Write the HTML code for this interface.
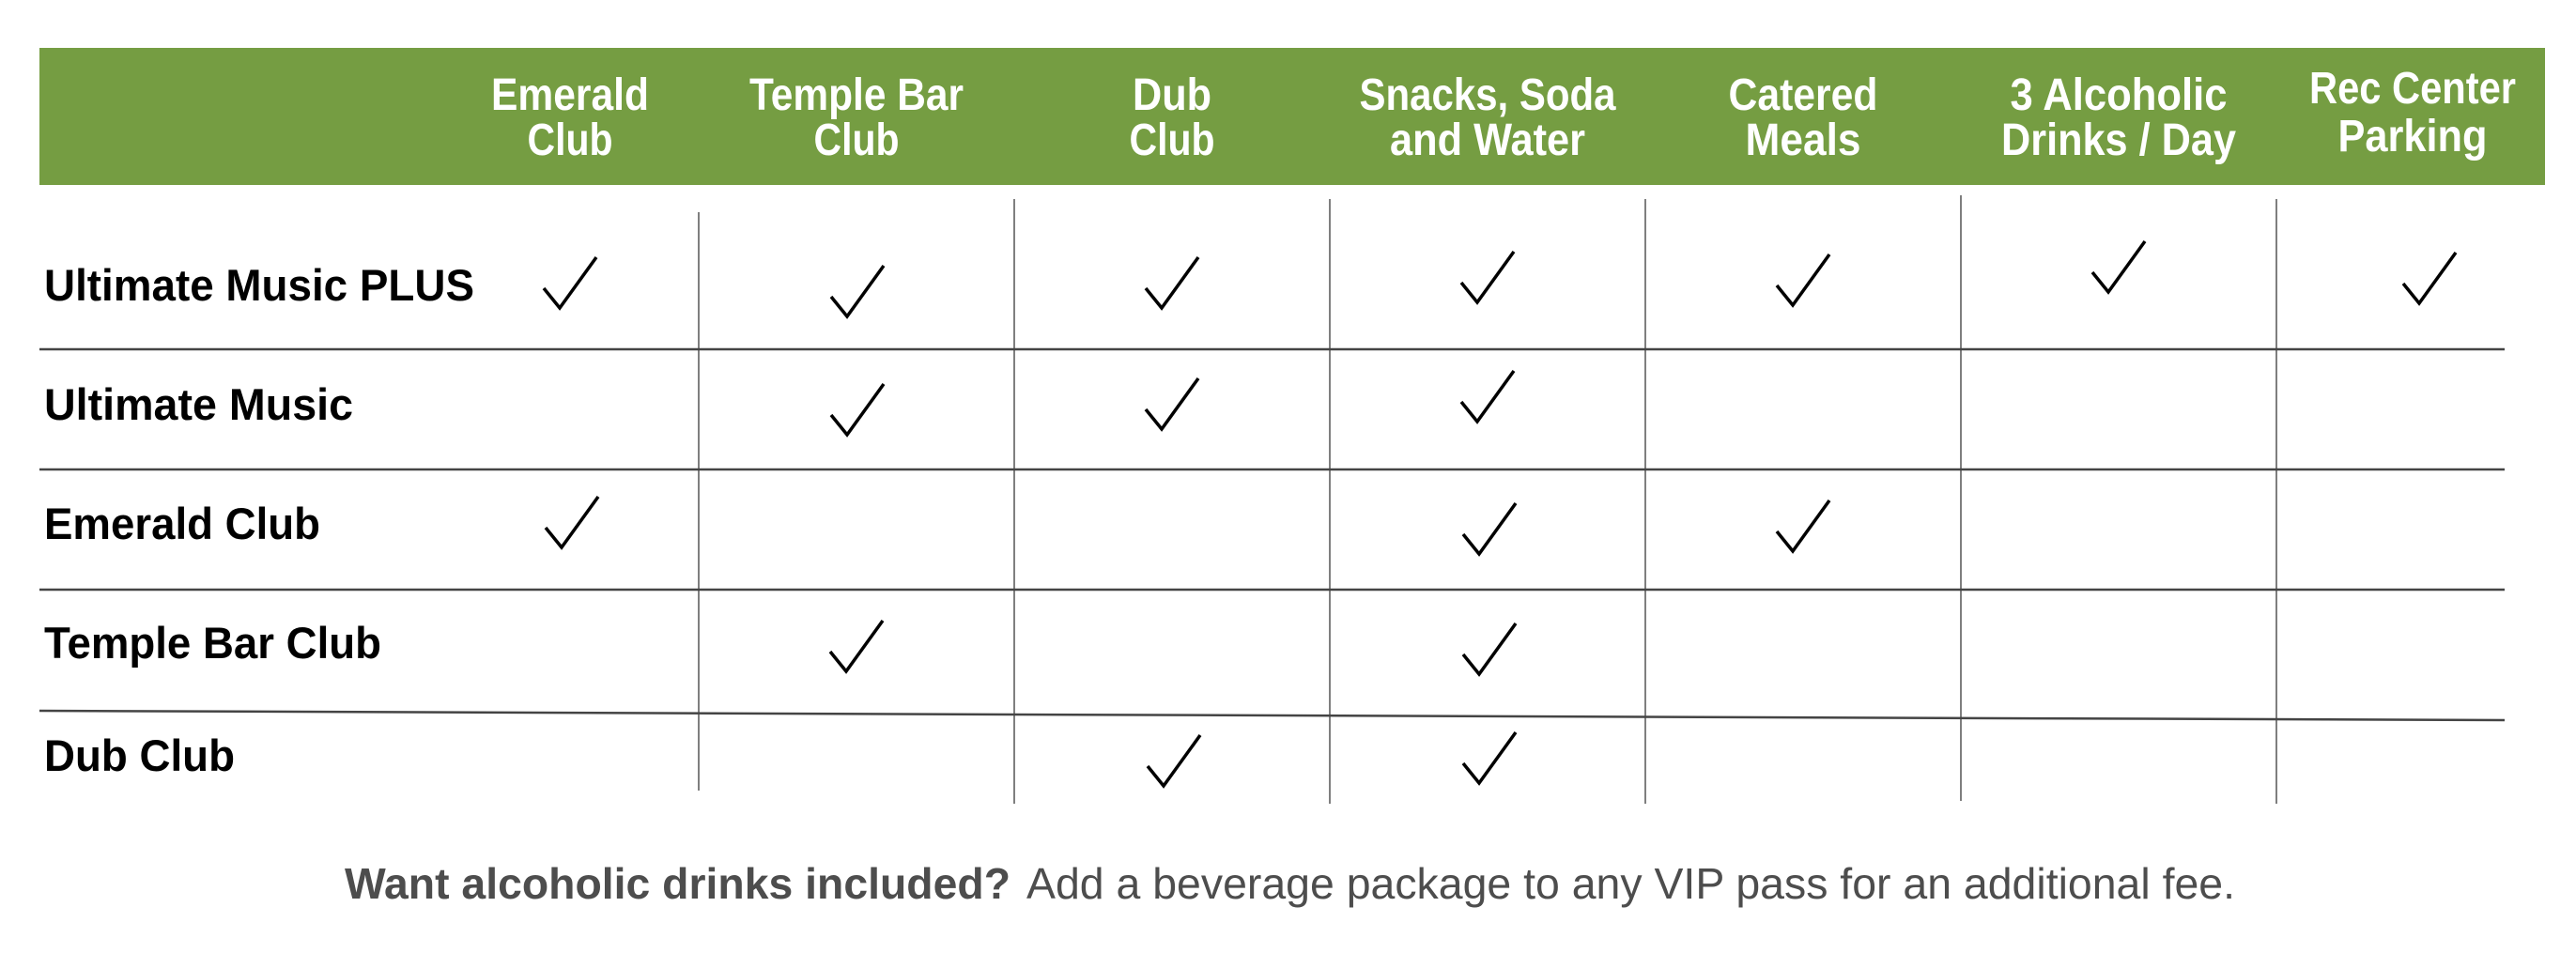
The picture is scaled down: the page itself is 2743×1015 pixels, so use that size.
<!DOCTYPE html>
<html><head><meta charset="utf-8"><style>
html,body{margin:0;padding:0;background:#fff;}
svg{display:block;}
</style></head><body>
<svg width="2743" height="1015" viewBox="0 0 2743 1015" xmlns="http://www.w3.org/2000/svg" font-family="'Liberation Sans', sans-serif">
<rect x="0" y="0" width="2743" height="1015" fill="#fff"/>
<rect x="42" y="51" width="2668" height="146" fill="#759d42"/>
<g fill="#fff" font-weight="bold" font-size="48" text-anchor="middle">
<text x="607" y="117" textLength="168" lengthAdjust="spacingAndGlyphs">Emerald</text>
<text x="607" y="165" textLength="91" lengthAdjust="spacingAndGlyphs">Club</text>
<text x="912" y="117" textLength="228" lengthAdjust="spacingAndGlyphs">Temple Bar</text>
<text x="912" y="165" textLength="91" lengthAdjust="spacingAndGlyphs">Club</text>
<text x="1248" y="117" textLength="84" lengthAdjust="spacingAndGlyphs">Dub</text>
<text x="1248" y="165" textLength="91" lengthAdjust="spacingAndGlyphs">Club</text>
<text x="1584" y="117" textLength="273" lengthAdjust="spacingAndGlyphs">Snacks, Soda</text>
<text x="1584" y="165" textLength="208" lengthAdjust="spacingAndGlyphs">and Water</text>
<text x="1920" y="117" textLength="159" lengthAdjust="spacingAndGlyphs">Catered</text>
<text x="1920" y="165" textLength="123" lengthAdjust="spacingAndGlyphs">Meals</text>
<text x="2256" y="117" textLength="231" lengthAdjust="spacingAndGlyphs">3 Alcoholic</text>
<text x="2256" y="165" textLength="250" lengthAdjust="spacingAndGlyphs">Drinks / Day</text>
<text x="2569" y="110" textLength="220" lengthAdjust="spacingAndGlyphs">Rec Center</text>
<text x="2569" y="161" textLength="159" lengthAdjust="spacingAndGlyphs">Parking</text>
</g>
<g stroke="#555" stroke-width="1.5">
<line x1="744" y1="226" x2="744" y2="842"/>
<line x1="1080" y1="212" x2="1080" y2="856"/>
<line x1="1416" y1="212" x2="1416" y2="856"/>
<line x1="1752" y1="212" x2="1752" y2="856"/>
<line x1="2088" y1="208" x2="2088" y2="853"/>
<line x1="2424" y1="212" x2="2424" y2="856"/>
</g>
<g stroke="#444" stroke-width="2.5">
<line x1="42" y1="372" x2="2667" y2="372"/>
<line x1="42" y1="500" x2="2667" y2="500"/>
<line x1="42" y1="628" x2="2667" y2="628"/>
<line x1="42" y1="757" x2="2667" y2="767"/>
</g>
<g fill="#000" font-weight="bold" font-size="47">
<text x="47" y="320" textLength="458" lengthAdjust="spacingAndGlyphs">Ultimate Music PLUS</text>
<text x="47" y="447" textLength="329" lengthAdjust="spacingAndGlyphs">Ultimate Music</text>
<text x="47" y="574" textLength="294" lengthAdjust="spacingAndGlyphs">Emerald Club</text>
<text x="47" y="701" textLength="359" lengthAdjust="spacingAndGlyphs">Temple Bar Club</text>
<text x="47" y="821" textLength="203" lengthAdjust="spacingAndGlyphs">Dub Club</text>
</g>
<defs>
<polyline id="ck" points="-17,-21 0,0 39,-54" fill="none" stroke="#000" stroke-width="3.5" stroke-linejoin="miter"/>
</defs>
<use href="#ck" x="596" y="328"/>
<use href="#ck" x="902" y="337"/>
<use href="#ck" x="1237" y="328"/>
<use href="#ck" x="1573" y="322"/>
<use href="#ck" x="1909" y="325"/>
<use href="#ck" x="2245" y="311"/>
<use href="#ck" x="2576" y="323"/>
<use href="#ck" x="902" y="463"/>
<use href="#ck" x="1237" y="457"/>
<use href="#ck" x="1573" y="449"/>
<use href="#ck" x="598" y="583"/>
<use href="#ck" x="1575" y="590"/>
<use href="#ck" x="1909" y="587"/>
<use href="#ck" x="901" y="715"/>
<use href="#ck" x="1575" y="718"/>
<use href="#ck" x="1239" y="837"/>
<use href="#ck" x="1575" y="834"/>
<g fill="#4d4d4d" font-size="46">
<text x="367" y="957" font-weight="bold" textLength="709" lengthAdjust="spacingAndGlyphs">Want alcoholic drinks included?</text>
<text x="1093" y="957" textLength="1287" lengthAdjust="spacingAndGlyphs">Add a beverage package to any VIP pass for an additional fee.</text>
</g>
</svg>
</body></html>
